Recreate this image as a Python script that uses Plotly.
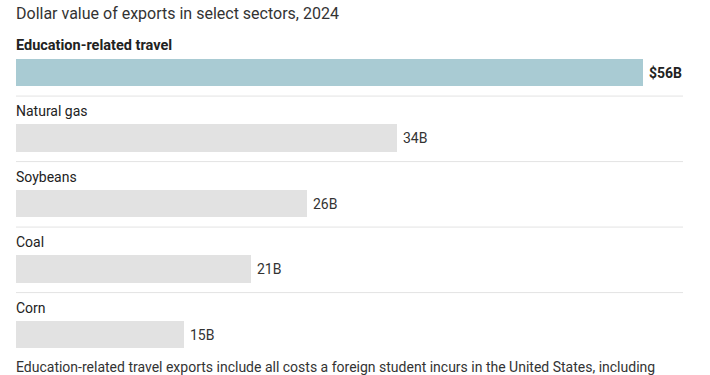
import plotly.graph_objects as go

categories = ["Education-related travel", "Natural gas", "Soybeans", "Coal", "Corn"]
values = [56, 34, 26, 21, 15]
value_labels = ["$56B", "34B", "26B", "21B", "15B"]
title = "Dollar value of exports in select sectors, 2024"
footnote = "Education-related travel exports include all costs a foreign student incurs in the United States, including"

W, H = 710, 375
FONT = "Roboto, 'Liberation Sans', Arial, sans-serif"

idx = list(range(len(categories)))
bar_colors = ["#a9cbd3"] + ["#e2e2e2"] * (len(categories) - 1)

fig = go.Figure()
fig.add_trace(go.Bar(
    x=values, y=idx, orientation="h", width=0.42,
    marker=dict(color=bar_colors, line=dict(width=0)),
    hoverinfo="skip", showlegend=False,
))

annotations = []
for i, c in enumerate(categories):
    annotations.append(dict(
        x=0, y=i - 0.405, xref="x", yref="y", xanchor="left", yanchor="middle", xshift=-2,
        text=f"<b>{c}</b>" if i == 0 else c, showarrow=False,
        font=dict(family=FONT, size=14.5 if i == 0 else 14, color="#222"),
    ))
    annotations.append(dict(
        x=values[i], y=i, xref="x", yref="y", xanchor="left", yanchor="middle", xshift=4,
        text=f"<b>{value_labels[i]}</b>" if i == 0 else value_labels[i], showarrow=False,
        font=dict(family=FONT, size=14, color="#222" if i == 0 else "#333"),
    ))
annotations.append(dict(
    x=14 / W, y=1 - 14 / H, xref="paper", yref="paper", xanchor="left", yanchor="middle",
    text=title, showarrow=False, font=dict(family=FONT, size=16, color="#333"),
))
annotations.append(dict(
    x=14 / W, y=0, xref="paper", yref="paper", xanchor="left", yanchor="bottom", yshift=-2,
    text=footnote, showarrow=False, font=dict(family=FONT, size=14, color="#333"),
))

shapes = []
for i in idx[:-1]:
    shapes.append(dict(type="line", xref="paper", yref="y",
                       x0=16 / W, x1=683 / W, y0=i + 0.36, y1=i + 0.36,
                       line=dict(color="#e3e3e3", width=1)))

px_per_unit = (643 - 16) / values[0]
x0 = 16
pitch = 65.5
c0 = 72.5
fig.update_layout(
    width=W, height=H, margin=dict(l=0, r=0, t=0, b=0),
    paper_bgcolor="white", plot_bgcolor="white",
    xaxis=dict(range=[-x0 / px_per_unit, (W - x0) / px_per_unit], visible=False, fixedrange=True),
    yaxis=dict(range=[(H - c0) / pitch, -c0 / pitch], visible=False, fixedrange=True),
    annotations=annotations, shapes=shapes, bargap=0,
)
fig.write_html(
    "out.html",
    config={"displayModeBar": False, "staticPlot": True},
    post_script="document.body.style.margin='0';document.body.style.overflow='hidden';",
)
